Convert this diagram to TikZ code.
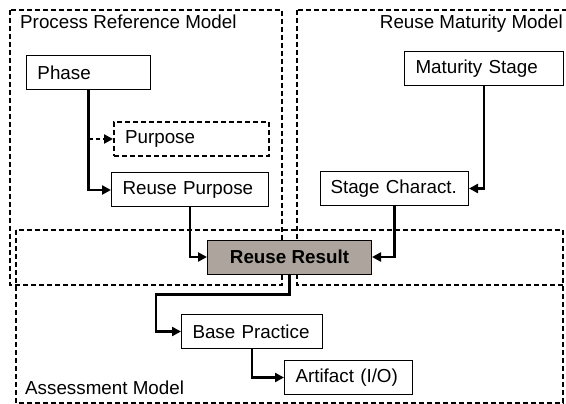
\documentclass[tikz,border=0pt]{standalone}
\usepackage{fontspec}
\setmainfont{Liberation Sans}
\usetikzlibrary{arrows.meta}

\definecolor{resultgray}{RGB}{173,165,157}

\begin{document}
\begin{tikzpicture}[x=1pt,y=-1pt,
    every node/.style={font=\fontsize{18.8pt}{22pt}\selectfont},
    box/.style={draw,line width=1pt,anchor=west,minimum height=34pt,inner xsep=11pt,inner ysep=0pt,text width=#1,align=left,
      execute at begin node={\hyphenpenalty=10000\exhyphenpenalty=10000}},
    frame/.style={line width=2.1pt,dash pattern=on 5pt off 3pt},
    arr/.style={line width=2.4pt,-{Triangle[length=9pt,width=9pt]}},
    title/.style={inner sep=0pt}]
    \useasboundingbox (0,0) rectangle (566,404);
    % model frames
    \draw[frame] (10,10) rectangle (282,285);
    \draw[frame] (297,10) rectangle (569,285);
    \draw[frame] (16,230) rectangle (563,403);
    \node[title,anchor=base west] at (20,29) (prmlabel) {Process Reference Model};
    \node[title,anchor=base east] at (563,29) (rmmlabel) {Reuse Maturity Model};
    \node[title,anchor=base west] at (25,394) (amlabel) {Assessment Model};
    % elements
    \node[box=102pt] at (26,73) (phase) {Phase};
    \node[box=133pt,frame] at (113,139) (purpose) {Purpose};
    \node[box=135pt] at (111,190) (reusepurpose) {Reuse Purpose};
    \node[box=137pt] at (404,69) (matstage) {Maturity Stage};
    \node[box=128pt,inner xsep=10pt] at (320,188.5) (stagechar) {Stage Charact.};
    \node[draw,line width=1pt,fill=resultgray,anchor=west,minimum width=164pt,minimum height=34pt,font=\fontsize{18.8pt}{22pt}\selectfont\bfseries] at (207,257) (result) {Reuse Result};
    \node[box=119pt] at (181,331.5) (basepractice) {Base Practice};
    \node[box=106pt] at (284,377.5) (artifact) {Artifact (I/O)};
    % connectors
    \draw[arr,dash pattern=on 4pt off 3pt] (phase.south) |- (purpose.west);
    \draw[arr] (phase.south) |- (reusepurpose.west);
    \draw[arr] (matstage.south) |- (stagechar.east);
    \draw[arr] (reusepurpose.south) |- (result.west);
    \draw[arr] (stagechar.south) |- (result.east);
    \draw[arr] (result.south) -- ++(0,20) -| ([xshift=-25pt]basepractice.west) -- (basepractice.west);
    \draw[arr] (basepractice.south) |- (artifact.west);
\end{tikzpicture}
\end{document}
